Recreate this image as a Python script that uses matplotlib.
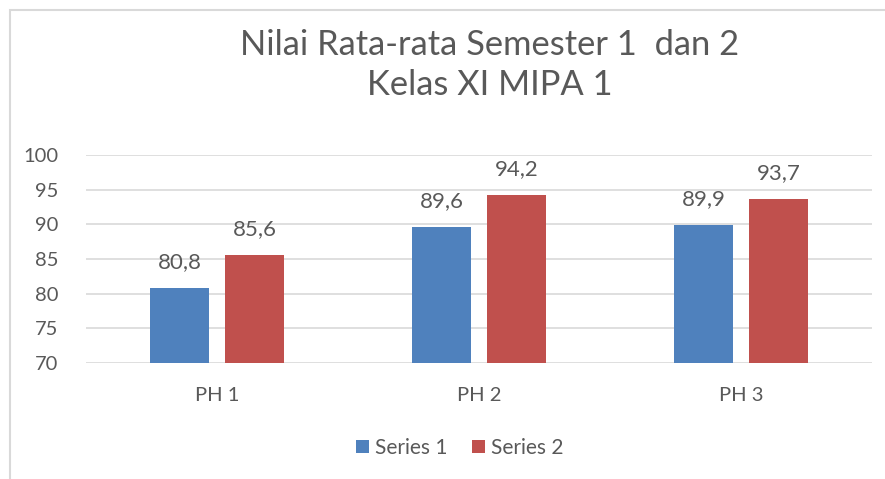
import numpy as np
import matplotlib
matplotlib.use('Agg')
import matplotlib.pyplot as plt
from matplotlib.patches import Rectangle

plt.rcParams['font.family'] = ['Lato', 'DejaVu Sans']

categories = ['PH 1', 'PH 2', 'PH 3']
series1 = [80.8, 89.6, 89.9]
series2 = [85.6, 94.2, 93.7]
series_names = ['Series 1', 'Series 2']
colors = ['#4F81BD', '#C0504D']
yticks = [70, 75, 80, 85, 90, 95, 100]

txt = '#595959'

fig = plt.figure(figsize=(8.85, 4.79), dpi=100)
# chart border (Excel chart area)
fig.patches.append(Rectangle((10/885, -0.1), 1.0, 1 - 10/479 + 0.1,
                             transform=fig.transFigure, fill=False,
                             edgecolor='#D9D9D9', linewidth=1.5))

ax = fig.add_axes([86/885, 1 - 363/479, 786/885, 208/479])
x = np.arange(len(categories))
w = 0.225
off = 0.143
b1 = ax.bar(x - off, np.array(series1) - 70, w, bottom=70, color=colors[0], label=series_names[0])
b2 = ax.bar(x + off, np.array(series2) - 70, w, bottom=70, color=colors[1], label=series_names[1])

for xs, vals in ((x - off, series1), (x + off, series2)):
    for xi, v in zip(xs, vals):
        ax.annotate(f'{v:.1f}'.replace('.', ','), (xi, v), xytext=(0, 11.5),
                    textcoords='offset points', ha='center', va='bottom',
                    fontsize=16, color=txt)

ax.set_xlim(-0.5, 2.5)
ax.set_ylim(70, 100)
ax.set_yticks(yticks)
ax.set_xticks(x)
ax.set_xticklabels(categories)
ax.tick_params(axis='both', length=0, labelsize=14.5, colors=txt)
ax.tick_params(axis='x', pad=17)
ax.tick_params(axis='y', pad=20)
ax.grid(axis='y', color='#D9D9D9', linewidth=1.2)
ax.set_axisbelow(True)
for s in ax.spines.values():
    s.set_visible(False)

fig.text(490/885, 1 - 45/479, 'Nilai Rata-rata Semester 1  dan 2', ha='center', va='center',
         fontsize=24.8, color=txt)
fig.text(490/885, 1 - 85/479, 'Kelas XI MIPA 1', ha='center', va='center',
         fontsize=24.8, color=txt)

fig.legend(handles=[b1, b2], labels=series_names, loc='center',
           bbox_to_anchor=(460/885, 1 - 448/479), ncol=2, frameon=False,
           fontsize=15, labelcolor=txt, handlelength=0.6, handleheight=0.6,
           handletextpad=0.3, columnspacing=1.2)

fig.savefig('out.png', dpi=100)
